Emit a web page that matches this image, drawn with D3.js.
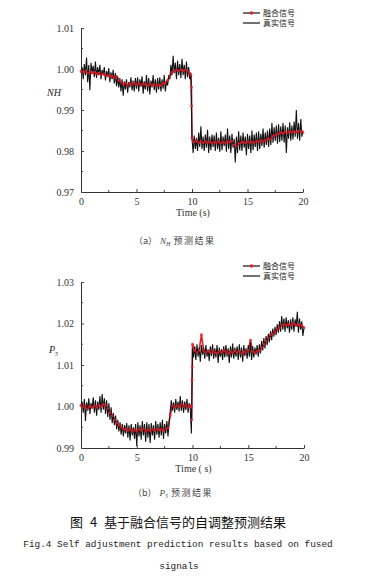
<!DOCTYPE html>
<html><head><meta charset="utf-8">
<script src="https://cdn.jsdelivr.net/npm/d3@7"></script>
<style>
body{margin:0;background:#fff;}
svg{display:block;}
</style></head>
<body>
<script>
// ---------- DATA ----------
const xTicks = [0, 5, 10, 15, 20];
const yTicksNH = [0.97, 0.98, 0.99, 1.00, 1.01];
const yTicksP5 = [0.99, 1.00, 1.01, 1.02, 1.03];
const legendLabels = ["融合信号", "真实信号"];

// real signal, sampled every 0.1 s from 0 to 20 s
const realNH = [
0.9990,1.0005,0.9975,1.0012,0.9985,1.0028,0.9968,1.0010,0.9948,1.0015,
0.9992,1.0008,0.9980,1.0018,0.9978,1.0005,0.9985,1.0010,0.9975,0.9998,
0.9985,1.0005,0.9972,0.9995,0.9980,1.0002,0.9968,0.9992,0.9975,0.9998,
0.9965,0.9990,0.9958,0.9982,0.9955,0.9978,0.9945,0.9975,0.9935,0.9970,
0.9950,0.9975,0.9942,0.9968,0.9955,0.9980,0.9948,0.9972,0.9945,0.9978,
0.9952,0.9980,0.9945,0.9975,0.9958,0.9982,0.9940,0.9970,0.9950,0.9985,
0.9945,0.9978,0.9938,0.9972,0.9955,0.9985,0.9948,0.9975,0.9942,0.9978,
0.9950,0.9980,0.9945,0.9975,0.9952,0.9985,0.9945,0.9970,0.9960,0.9985,
0.9975,1.0010,0.9985,1.0032,0.9990,1.0015,0.9975,1.0020,0.9985,1.0012,
0.9978,1.0025,0.9985,1.0010,0.9975,1.0018,0.9980,1.0005,0.9975,0.9990,
0.9830,0.9795,0.9838,0.9805,0.9832,0.9800,0.9845,0.9810,0.9860,0.9805,
0.9835,0.9800,0.9840,0.9808,0.9852,0.9795,0.9835,0.9802,0.9840,0.9810,
0.9838,0.9800,0.9845,0.9805,0.9832,0.9798,0.9848,0.9802,0.9835,0.9812,
0.9840,0.9798,0.9855,0.9805,0.9838,0.9795,0.9842,0.9808,0.9830,0.9772,
0.9835,0.9795,0.9848,0.9802,0.9838,0.9800,0.9845,0.9808,0.9835,0.9790,
0.9842,0.9805,0.9838,0.9795,0.9850,0.9802,0.9840,0.9810,0.9845,0.9800,
0.9848,0.9805,0.9842,0.9812,0.9855,0.9808,0.9845,0.9815,0.9850,0.9810,
0.9855,0.9815,0.9868,0.9820,0.9858,0.9825,0.9862,0.9818,0.9865,0.9822,
0.9860,0.9825,0.9868,0.9820,0.9862,0.9795,0.9858,0.9830,0.9870,0.9825,
0.9862,0.9828,0.9872,0.9835,0.9900,0.9830,0.9868,0.9825,0.9878,0.9835,
0.9850];

const realP5 = [
0.9998,1.0012,0.9985,1.0018,0.9965,1.0010,0.9990,1.0020,0.9982,1.0008,
0.9995,1.0022,0.9985,1.0015,0.9978,1.0012,0.9992,1.0025,0.9985,1.0030,
0.9992,1.0020,0.9982,1.0015,0.9975,1.0008,0.9968,0.9998,0.9960,0.9985,
0.9955,0.9978,0.9945,0.9968,0.9940,0.9962,0.9932,0.9958,0.9928,0.9955,
0.9935,0.9960,0.9925,0.9955,0.9918,0.9958,0.9930,0.9950,0.9922,0.9958,
0.9905,0.9962,0.9928,0.9955,0.9920,0.9965,0.9930,0.9958,0.9915,0.9962,
0.9925,0.9958,0.9912,0.9960,0.9930,0.9955,0.9920,0.9965,0.9932,0.9958,
0.9925,0.9962,0.9930,0.9968,0.9922,0.9958,0.9935,0.9965,0.9928,0.9960,
0.9988,1.0015,0.9990,1.0010,0.9985,1.0018,0.9992,1.0012,0.9988,1.0025,
0.9990,1.0015,0.9985,1.0012,0.9992,1.0018,0.9985,1.0008,0.9995,0.9935,
1.0140,1.0118,1.0145,1.0112,1.0150,1.0120,1.0142,1.0108,1.0148,1.0125,
1.0142,1.0115,1.0148,1.0120,1.0138,1.0110,1.0145,1.0122,1.0150,1.0115,
1.0140,1.0118,1.0148,1.0105,1.0142,1.0120,1.0138,1.0112,1.0145,1.0118,
1.0148,1.0120,1.0140,1.0105,1.0145,1.0118,1.0152,1.0115,1.0142,1.0120,
1.0145,1.0112,1.0150,1.0118,1.0142,1.0108,1.0148,1.0122,1.0140,1.0115,
1.0148,1.0120,1.0155,1.0112,1.0145,1.0118,1.0142,1.0125,1.0148,1.0120,
1.0150,1.0128,1.0158,1.0135,1.0165,1.0140,1.0170,1.0148,1.0175,1.0155,
1.0182,1.0160,1.0188,1.0168,1.0192,1.0172,1.0198,1.0178,1.0205,1.0180,
1.0218,1.0185,1.0212,1.0180,1.0215,1.0188,1.0208,1.0178,1.0210,1.0185,
1.0215,1.0180,1.0210,1.0192,1.0228,1.0178,1.0212,1.0185,1.0205,1.0170,
1.0190];

// fused signal: time stamps and values
const fusedTimeNH = [0,0.2,0.4,0.6,0.8,1,1.2,1.4,1.6,1.8,2,2.2,2.4,2.6,2.8,3,3.2,3.4,3.6,3.8,
4,4.2,4.4,4.6,4.8,5,5.2,5.4,5.6,5.8,6,6.2,6.4,6.6,6.8,7,7.2,7.4,7.6,7.8,
8,8.2,8.4,8.6,8.8,9,9.2,9.4,9.6,9.8,9.9,9.95,9.97,10,
10.2,10.4,10.6,10.8,11,11.2,11.4,11.6,11.8,12,12.2,12.4,12.6,12.8,13,13.2,13.4,13.6,13.8,
14,14.2,14.4,14.6,14.8,15,15.2,15.4,15.6,15.8,16,16.2,16.4,16.6,16.8,17,17.2,17.4,17.6,17.8,
18,18.2,18.4,18.6,18.8,19,19.2,19.4,19.6,19.8,20];
const fusedNH = [0.9995,0.9992,0.9995,0.9990,0.9993,0.9990,0.9992,0.9988,0.9990,0.9986,
0.9988,0.9985,0.9984,0.9982,0.9983,0.9978,0.9982,0.9972,0.9968,0.9962,
0.9965,0.9960,0.9965,0.9962,0.9966,0.9962,0.9965,0.9960,0.9965,0.9962,
0.9960,0.9964,0.9960,0.9962,0.9958,0.9962,0.9960,0.9964,0.9966,0.9972,
0.9982,0.9992,0.9995,0.9998,0.9995,0.9998,0.9996,0.9998,0.9994,0.9990,0.9985,0.9955,0.9910,0.9830,
0.9822,0.9825,0.9820,0.9823,0.9820,0.9824,0.9820,0.9822,0.9819,0.9822,0.9820,0.9823,0.9819,0.9822,
0.9820,0.9823,0.9821,0.9824,0.9815,0.9812,0.9818,0.9820,0.9822,0.9820,0.9823,0.9820,0.9822,0.9820,
0.9824,0.9822,0.9825,0.9822,0.9826,0.9830,0.9828,0.9835,0.9838,0.9840,0.9842,0.9845,0.9843,0.9846,
0.9844,0.9847,0.9845,0.9848,0.9846,0.9849,0.9847,0.9845];

const fusedTimeP5 = [0,0.2,0.4,0.6,0.8,1,1.2,1.4,1.6,1.8,2,2.2,2.4,2.6,2.8,3,3.2,3.4,3.6,3.8,
4,4.2,4.4,4.6,4.8,5,5.2,5.4,5.6,5.8,6,6.2,6.4,6.6,6.8,7,7.2,7.4,7.6,7.8,
8,8.2,8.4,8.6,8.8,9,9.2,9.4,9.6,9.8,9.9,9.93,9.96,9.98,10,
10.2,10.4,10.6,10.8,11,11.2,11.4,11.6,11.8,12,12.2,12.4,12.6,12.8,13,13.2,13.4,13.6,13.8,
14,14.2,14.4,14.6,14.8,15,15.2,15.4,15.6,15.8,16,16.2,16.4,16.6,16.8,17,17.2,17.4,17.6,17.8,
18,18.2,18.4,18.6,18.8,19,19.2,19.4,19.6,19.8,20];
const fusedP5 = [1.0003,0.9998,1.0002,0.9995,1.0000,0.9998,1.0002,0.9998,1.0003,1.0000,
1.0005,1.0002,0.9995,0.9985,0.9978,0.9968,0.9960,0.9955,0.9950,0.9945,
0.9945,0.9942,0.9945,0.9940,0.9944,0.9940,0.9945,0.9942,0.9946,0.9940,
0.9944,0.9941,0.9945,0.9942,0.9946,0.9943,0.9945,0.9942,0.9946,0.9948,
0.9978,1.0002,0.9998,1.0002,1.0000,1.0005,1.0000,1.0003,0.9998,1.0002,1.0000,0.9968,1.0065,1.0095,1.0150,
1.0135,1.0130,1.0135,1.0173,1.0135,1.0130,1.0133,1.0130,1.0135,1.0130,1.0128,1.0133,1.0130,1.0135,
1.0132,1.0128,1.0132,1.0130,1.0134,1.0130,1.0133,1.0128,1.0132,1.0130,1.0135,1.0160,1.0132,1.0130,
1.0133,1.0135,1.0142,1.0150,1.0158,1.0165,1.0172,1.0175,1.0180,1.0185,1.0190,1.0195,1.0198,1.0195,
1.0198,1.0196,1.0200,1.0197,1.0195,1.0198,1.0195,1.0190];

// ---------- DRAW ----------
const W = 373, H = 580;
const svg = d3.select("body").append("svg").attr("width", W).attr("height", H);
const serif = "'Liberation Serif', 'Times New Roman', serif";
const cjk = "'Noto Sans CJK SC', sans-serif";
const mono = "'Liberation Mono', 'DejaVu Sans Mono', monospace";

function panel(o) {
  const x = d3.scaleLinear().domain([0, 20]).range([o.x0, o.x1]);
  const y = d3.scaleLinear().domain([o.yTicks[0], o.yTicks[o.yTicks.length-1]]).range([o.y0, o.y1]);
  const g = svg.append("g");

  const xMinor = d3.range(0, 20.01, 2.5).filter(v => !o.xTicks.includes(v));
  const yStep = o.yTicks[1] - o.yTicks[0];
  const yMinor = o.yTicks.slice(0, -1).map(v => v + yStep / 2);

  const xAxis = g.append("g").attr("transform", `translate(0,${o.y0})`)
    .call(d3.axisBottom(x).tickValues(o.xTicks).tickSizeInner(-3).tickSizeOuter(0).tickPadding(6).tickFormat(d3.format("d")));
  xAxis.append("g").selectAll("line").data(xMinor).join("line")
    .attr("x1", d => x(d)).attr("x2", d => x(d)).attr("y1", 0).attr("y2", -2).attr("stroke", "#444");
  const yAxis = g.append("g").attr("transform", `translate(${o.x0},0)`)
    .call(d3.axisLeft(y).tickValues(o.yTicks).tickSizeInner(3).tickSizeOuter(0).tickPadding(4).tickFormat(d3.format(".2f")));
  yAxis.selectAll(".tick line").attr("x2", 3);
  yAxis.append("g").selectAll("line").data(yMinor).join("line")
    .attr("x1", 0).attr("x2", 2).attr("y1", d => y(d)).attr("y2", d => y(d)).attr("stroke", "#444");
  [xAxis, yAxis].forEach(a => {
    a.select(".domain").attr("stroke", "#333");
    a.selectAll(".tick line").attr("stroke", "#444");
    a.selectAll("text").attr("font-family", serif).attr("font-size", 10).attr("fill", "#333");
  });

  const realPts = o.real.map((v, i) => [i * 0.1, v]);
  const fusedPts = o.fused.map((v, i) => [o.fusedT[i], v]);
  const line = d3.line().x(d => x(d[0])).y(d => y(d[1]));

  g.append("path").datum(fusedPts).attr("d", line).attr("fill", "none")
    .attr("stroke", "#e0202a").attr("stroke-width", 1.6);
  g.append("path").datum(realPts).attr("d", line).attr("fill", "none")
    .attr("stroke", "#111").attr("stroke-width", 1.1);
  g.append("g").selectAll("circle").data(fusedPts).join("circle")
    .attr("cx", d => x(d[0])).attr("cy", d => y(d[1])).attr("r", 1.4)
    .attr("fill", "#e0202a").attr("opacity", 0.85);

  g.append("text").attr("x", (o.x0 + o.x1) / 2 + 1).attr("y", o.y0 + 24).attr("text-anchor", "middle")
    .attr("font-family", serif).attr("font-size", 10).attr("fill", "#333").text(o.xTitle);
  const yl = g.append("text").attr("x", o.yLabelX).attr("y", o.yLabelY)
    .attr("font-family", serif).attr("font-style", "italic").attr("font-size", 10).attr("fill", "#222");
  yl.append("tspan").text(o.yName);
  if (o.ySub) yl.append("tspan").attr("font-size", 6).attr("dy", 3).text(o.ySub);

  const lx0 = 243, lx1 = 260;
  legendLabels.forEach((lab, i) => {
    const ly = o.legendY + i * 10;
    g.append("line").attr("x1", lx0).attr("x2", lx1).attr("y1", ly).attr("y2", ly)
      .attr("stroke", "#111").attr("stroke-width", 1.2);
    if (i === 0) g.append("circle").attr("cx", (lx0 + lx1) / 2).attr("cy", ly).attr("r", 1.8).attr("fill", "#e0202a");
    g.append("text").attr("x", 263).attr("y", ly + 3).attr("font-family", cjk)
      .attr("font-size", 8).attr("fill", "#222").text(lab);
  });

  const cap = svg.append("text").attr("x", o.capX).attr("y", o.capY)
    .attr("font-family", cjk).attr("font-size", 9).attr("fill", "#444");
  cap.append("tspan").text(o.capPre);
  cap.append("tspan").attr("font-family", serif).attr("font-style", "italic").attr("dx", 3).text(o.capName);
  cap.append("tspan").attr("font-family", serif).attr("font-style", "italic").attr("font-size", 6).attr("dy", 2).text(o.capSub);
  cap.append("tspan").attr("dy", -2).attr("dx", 3).attr("letter-spacing", 1.5).text("预测结果");
}

panel({x0: 81, x1: 303, y0: 192, y1: 28, xTicks, yTicks: yTicksNH, real: realNH,
  fusedT: fusedTimeNH, fused: fusedNH, xTitle: "Time (s)", yName: "NH", ySub: null,
  yLabelX: 47, yLabelY: 96, legendY: 13, capX: 134, capY: 244, capPre: "（a）", capName: "N", capSub: "H"});
panel({x0: 81, x1: 304, y0: 448, y1: 282, xTicks, yTicks: yTicksP5, real: realP5,
  fusedT: fusedTimeP5, fused: fusedP5, xTitle: "Time ( s)", yName: "P", ySub: "5",
  yLabelX: 49, yLabelY: 353, legendY: 266, capX: 133, capY: 496, capPre: "（b）", capName: "P", capSub: "5"});

svg.append("text").attr("x", 178).attr("y", 527).attr("text-anchor", "middle")
  .attr("font-family", cjk).attr("font-size", 13).attr("fill", "#111")
  .attr("word-spacing", 4).text("图 4 基于融合信号的自调整预测结果");
svg.append("text").attr("x", 178).attr("y", 547).attr("text-anchor", "middle")
  .attr("font-family", mono).attr("font-size", 9.4).attr("fill", "#222")
  .text("Fig.4 Self adjustment prediction results based on fused");
svg.append("text").attr("x", 179).attr("y", 569).attr("text-anchor", "middle")
  .attr("font-family", mono).attr("font-size", 9.4).attr("fill", "#222")
  .text("signals");
</script>
</body></html>
